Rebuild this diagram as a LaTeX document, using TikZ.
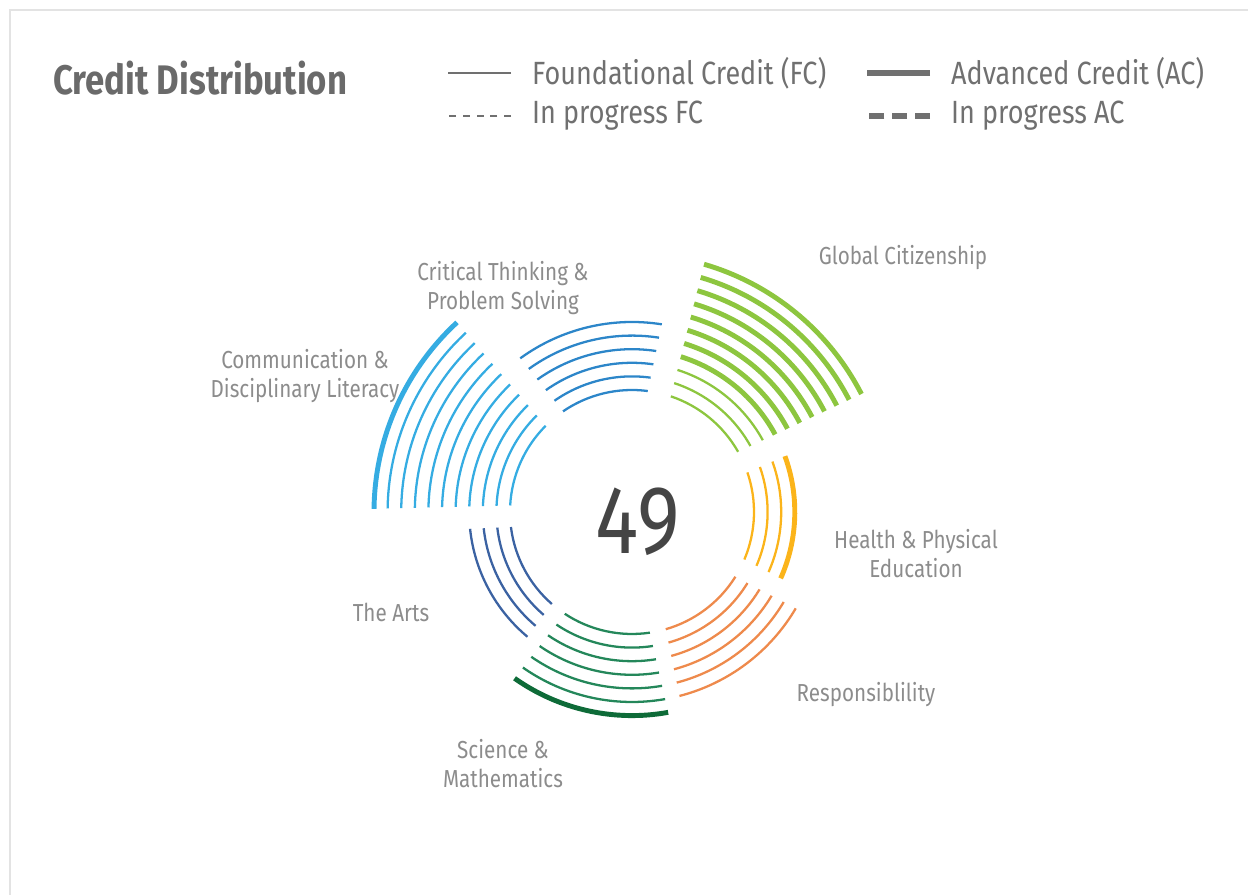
\documentclass[tikz,border=0pt]{standalone}
\usepackage{fontspec}
\setmainfont{Fira Sans}[FakeStretch=0.84]
\usetikzlibrary{calc}
\definecolor{framegray}{HTML}{E3E3E3}
\definecolor{titlegray}{HTML}{6A6A6A}
\definecolor{leggray}{HTML}{707070}
\definecolor{labelgray}{HTML}{8C8C8C}
\definecolor{numgray}{HTML}{454545}
\definecolor{commblue}{HTML}{35ACE2}
\definecolor{critblue}{HTML}{2C86C9}
\definecolor{globgreen}{HTML}{8DC63F}
\definecolor{healthyel}{HTML}{FBB41A}
\definecolor{respor}{HTML}{EE8A4C}
\definecolor{scigreen}{HTML}{24875A}
\definecolor{scidark}{HTML}{0E6B38}
\definecolor{artsblue}{HTML}{3B62A2}

\begin{document}
\begin{tikzpicture}[x=0.02cm,y=0.02cm,
  fc/.style={line width=1.3pt},
  ac/.style={line width=2.8pt},
  lbl/.style={text=labelgray,font=\fontsize{14}{16.5}\selectfont,align=center},
  leg/.style={text=leggray,font=\fontsize{18.3}{21}\selectfont,anchor=west}]
\useasboundingbox (0,0) rectangle (1248,895);
\draw[framegray,line width=1.2pt] (10,0) -- (10,885) -- (1248,885);

% title and legend
\node[anchor=west,text=titlegray,font=\fontsize{23.5}{27}\bfseries\selectfont] (title) at (47,817) {Credit Distribution};
\node[leg] (fc) at (526,822) {Foundational Credit (FC)};
\node[leg] (fcp) at (526,779) {In progress FC};
\node[leg] (ac) at (945,822) {Advanced Credit (AC)};
\node[leg] (acp) at (945,779) {In progress AC};
\draw[leggray,line width=1pt] ($(fc.west)+(-15,0)$) -- ++(-63,0);
\draw[leggray,line width=1pt,dash pattern=on 4pt off 3.8pt] ($(fcp.west)+(-15,0)$) -- ++(-63,0);
\draw[leggray,line width=3pt] ($(ac.west)+(-15,0)$) -- ++(-63,0);
\draw[leggray,line width=3pt,dash pattern=on 8.5pt off 4.5pt] ($(acp.west)+(-15,0)$) -- ++(-63,0);

% rings
\begin{scope}[shift={(632,383)}]
\node[text=numgray,font=\fontsize{55}{60}\selectfont] (total) at (6,-10) {49};
\foreach \ang/\kthin/\kall/\cthin/\cthick in {156/9/10/commblue/commblue,
    103.5/5/5/critblue/critblue, 50.5/2/10/globgreen/globgreen,
    -2/2/3/healthyel/healthyel, -53/5/5/respor/respor,
    -102.5/5/6/scigreen/scidark, -152/3/3/artsblue/artsblue}
  \foreach \k in {0,...,\kall}{
    \pgfmathsetmacro{\rr}{122+13.6*\k}
    \pgfmathsetmacro{\hh}{25.4-9.5/\rr*57.3}
    \ifnum\k>\kthin
      \draw[ac,\cthick] ({\ang-\hh}:\rr) arc[start angle={\ang-\hh}, end angle={\ang+\hh}, radius=\rr];
    \else
      \draw[fc,\cthin] ({\ang-\hh}:\rr) arc[start angle={\ang-\hh}, end angle={\ang+\hh}, radius=\rr];
    \fi
  }
\end{scope}

% labels
\node[lbl] (crit) at (503,607) {Critical Thinking \&\\Problem Solving};
\node[lbl] (comm) at (305,519) {Communication \&\\Disciplinary Literacy};
\node[lbl] (glob) at (903,637) {Global Citizenship};
\node[lbl] (health) at (916,341) {Health \& Physical\\Education};
\node[lbl] (arts) at (391,283) {The Arts};
\node[lbl] (resp) at (866,200) {Responsiblility};
\node[lbl] (sci) at (503,131) {Science \&\\Mathematics};
\end{tikzpicture}
\end{document}
